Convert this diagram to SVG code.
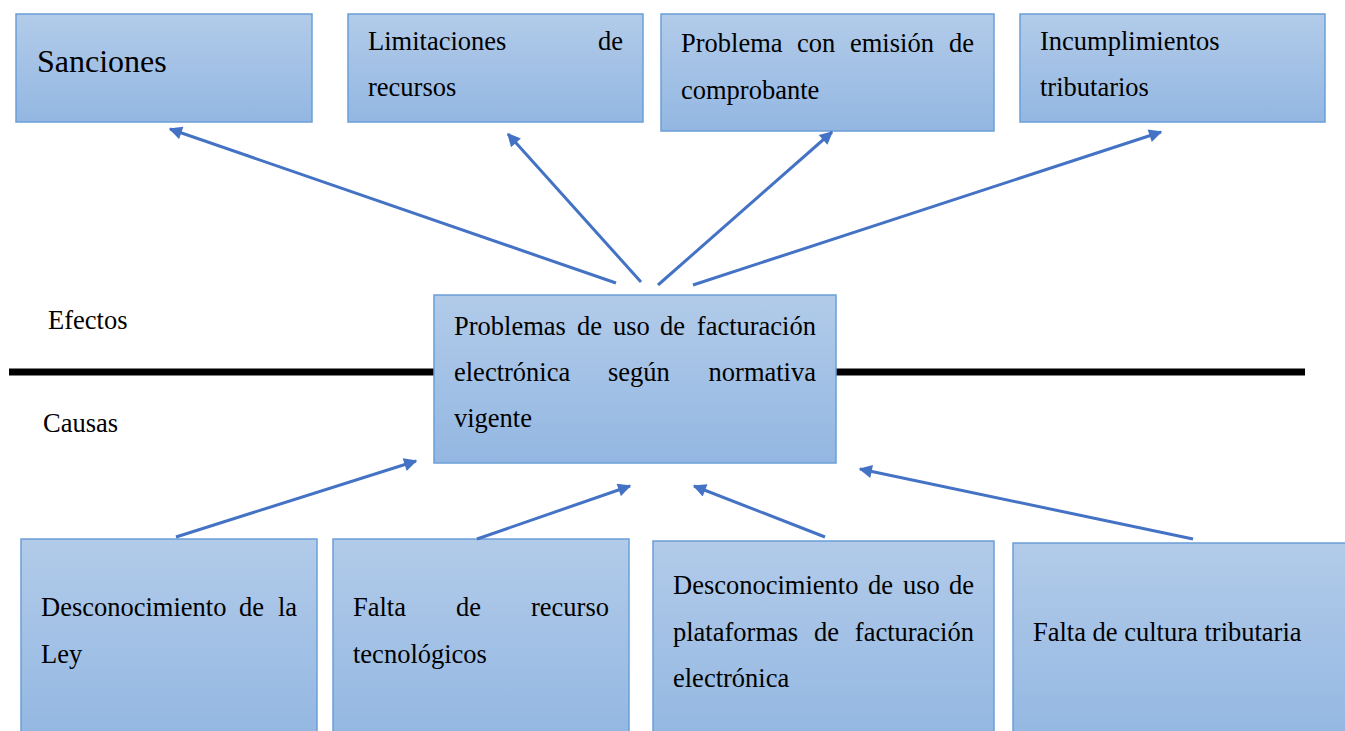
<svg xmlns="http://www.w3.org/2000/svg" width="1345" height="731" viewBox="0 0 1345 731">
<defs>
<linearGradient id="g" x1="0" y1="0" x2="0" y2="1">
<stop offset="0" stop-color="#B2CBE9"/>
<stop offset="1" stop-color="#93B7E2"/>
</linearGradient>
<marker id="ah" viewBox="0 0 10 10" refX="9" refY="5" markerWidth="5" markerHeight="4.4" orient="auto" markerUnits="strokeWidth">
<path d="M0,0 L10,5 L0,10 z" fill="#4472C4"/>
</marker>
<style>
.box{fill:url(#g);stroke:#6A9FD8;stroke-width:1.5}
.t{font-family:"Liberation Serif","Times New Roman",serif;font-size:26.5px;fill:#000}
.e{text-anchor:end}
.c{stroke:#4472C4;stroke-width:3;fill:none;marker-end:url(#ah)}
</style>
</defs>
<rect width="1345" height="731" fill="#fff"/>
<g id="axis">
<line x1="9" y1="372" x2="1305" y2="372" stroke="#000" stroke-width="7"/>
<text class="t" x="48" y="329">Efectos</text>
<text class="t" x="43" y="432">Causas</text>
</g>
<g id="sanciones">
<rect class="box" x="16" y="14" width="296" height="108"/>
<text class="t" x="37" y="72" style="font-size:32px">Sanciones</text>
</g>
<g id="limitaciones">
<rect class="box" x="348" y="14" width="295" height="108"/>
<text class="t" x="368" y="50">Limitaciones</text>
<text class="t e" x="623" y="50">de</text>
<text class="t" x="368" y="96">recursos</text>
</g>
<g id="problema">
<rect class="box" x="661" y="14" width="333" height="117"/>
<text class="t" x="681" y="52">Problema</text>
<text class="t" x="797" y="52">con</text>
<text class="t" x="850" y="52">emisión</text>
<text class="t e" x="974" y="52">de</text>
<text class="t" x="681" y="99">comprobante</text>
</g>
<g id="incumplimientos">
<rect class="box" x="1020" y="14" width="305" height="108"/>
<text class="t" x="1040" y="50">Incumplimientos</text>
<text class="t" x="1040" y="96">tributarios</text>
</g>
<g id="central">
<rect class="box" x="434" y="295" width="402" height="168"/>
<text class="t" x="454" y="335">Problemas</text>
<text class="t" x="577" y="335">de</text>
<text class="t" x="613" y="335">uso</text>
<text class="t" x="660" y="335">de</text>
<text class="t e" x="816" y="335">facturación</text>
<text class="t" x="454" y="381">electrónica</text>
<text class="t" x="608" y="381">según</text>
<text class="t e" x="816" y="381">normativa</text>
<text class="t" x="454" y="427">vigente</text>
</g>
<g id="ley">
<rect class="box" x="21" y="539" width="296" height="200"/>
<text class="t" x="41" y="616">Desconocimiento</text>
<text class="t" x="239" y="616">de</text>
<text class="t e" x="297" y="616">la</text>
<text class="t" x="41" y="663">Ley</text>
</g>
<g id="recurso">
<rect class="box" x="333" y="539" width="296" height="200"/>
<text class="t" x="353" y="616">Falta</text>
<text class="t" x="456" y="616">de</text>
<text class="t e" x="609" y="616">recurso</text>
<text class="t" x="353" y="663">tecnológicos</text>
</g>
<g id="plataformas">
<rect class="box" x="653" y="541" width="341" height="200"/>
<text class="t" x="673" y="594">Desconocimiento</text>
<text class="t" x="868" y="594">de</text>
<text class="t" x="903" y="594">uso</text>
<text class="t e" x="974" y="594">de</text>
<text class="t" x="673" y="641">plataformas</text>
<text class="t" x="814" y="641">de</text>
<text class="t e" x="974" y="641">facturación</text>
<text class="t" x="673" y="687">electrónica</text>
</g>
<g id="cultura">
<rect class="box" x="1013" y="543" width="340" height="200"/>
<text class="t" x="1033" y="641">Falta de cultura tributaria</text>
</g>
<g id="connectors">
<line class="c" x1="616" y1="283" x2="170" y2="129"/>
<line class="c" x1="641" y1="282" x2="508" y2="134"/>
<line class="c" x1="658" y1="285" x2="832" y2="132"/>
<line class="c" x1="693" y1="285" x2="1161" y2="132"/>
<line class="c" x1="176" y1="537" x2="416" y2="461"/>
<line class="c" x1="477" y1="539" x2="630" y2="486"/>
<line class="c" x1="825" y1="537" x2="694" y2="486"/>
<line class="c" x1="1193" y1="539" x2="860" y2="469"/>
</g>
</svg>
